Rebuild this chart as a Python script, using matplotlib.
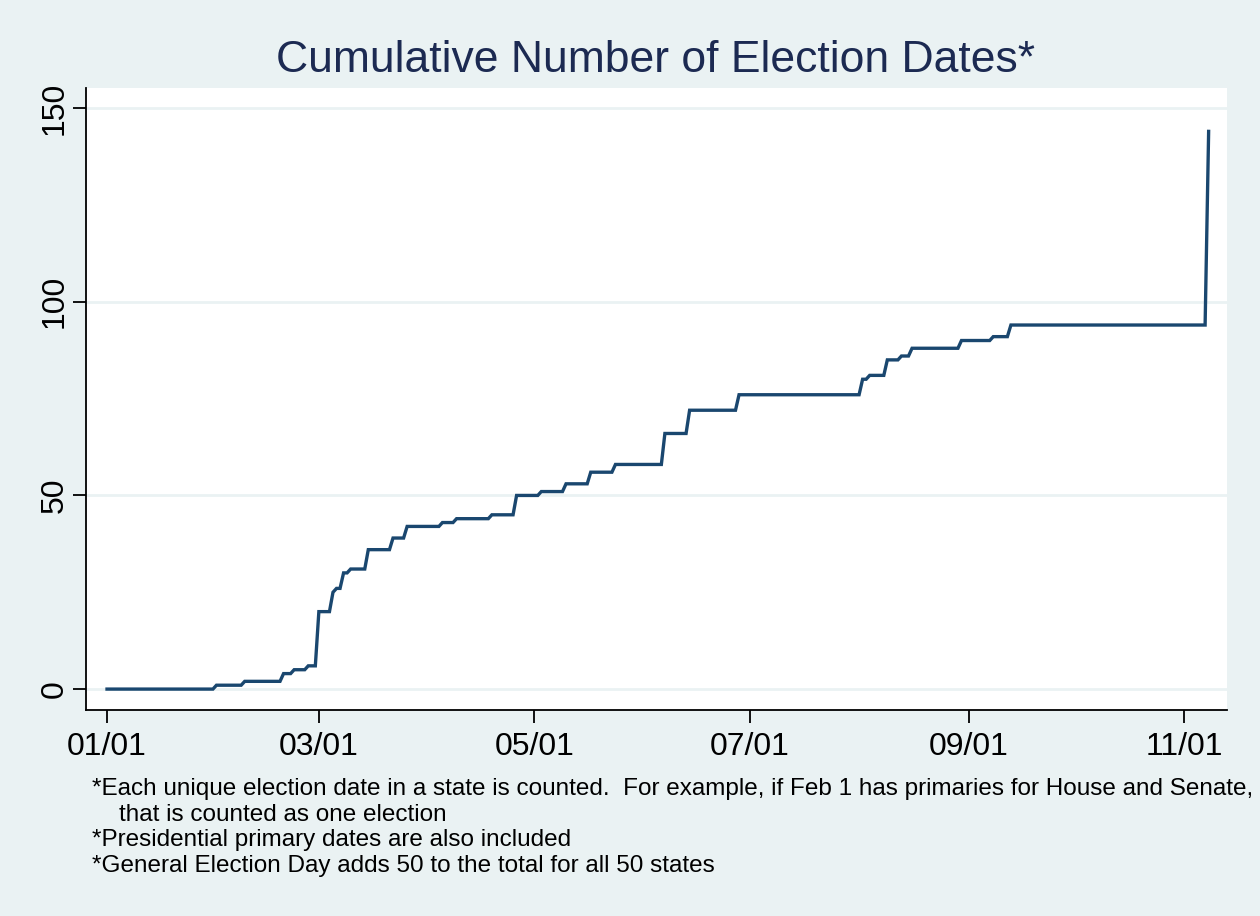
import matplotlib
matplotlib.use("Agg")
import matplotlib.pyplot as plt
import numpy as np
import pandas as pd

# Cumulative count after each election date (2016)
change_dates = ["2016-02-01", "2016-02-09", "2016-02-20", "2016-02-23", "2016-02-27",
                "2016-03-01", "2016-03-05", "2016-03-06", "2016-03-08", "2016-03-10",
                "2016-03-15", "2016-03-22", "2016-03-26", "2016-04-05", "2016-04-09",
                "2016-04-19", "2016-04-26", "2016-05-03", "2016-05-10", "2016-05-17",
                "2016-05-24", "2016-06-07", "2016-06-14", "2016-06-28", "2016-08-02",
                "2016-08-04", "2016-08-09", "2016-08-13", "2016-08-16", "2016-08-30",
                "2016-09-08", "2016-09-13", "2016-11-08"]
cum_values = [1, 2, 4, 5, 6,
              20, 25, 26, 30, 31,
              36, 39, 42, 43, 44,
              45, 50, 51, 53, 56,
              58, 66, 72, 76, 80,
              81, 85, 86, 88, 90,
              91, 94, 144]
start_date = "2016-01-01"
start_value = 0

x_tick_dates = ["2016-01-01", "2016-03-01", "2016-05-01", "2016-07-01", "2016-09-01", "2016-11-01"]
x_tick_labels = ["01/01", "03/01", "05/01", "07/01", "09/01", "11/01"]
y_ticks = [0, 50, 100, 150]

title = "Cumulative Number of Election Dates*"
notes = ["*Each unique election date in a state is counted.  For example, if Feb 1 has primaries for House and Senate,",
         "    that is counted as one election",
         "*Presidential primary dates are also included",
         "*General Election Day adds 50 to the total for all 50 states"]

BG = "#EAF2F3"
LINE = "#1A476F"
TITLE_C = "#1C2A52"

# build daily-connected line points (value changes between consecutive days)
xs = [pd.Timestamp(start_date)]
ys = [start_value]
prev = start_value
for d, v in zip(change_dates, cum_values):
    t = pd.Timestamp(d)
    xs.append(t - pd.Timedelta(days=1)); ys.append(prev)
    xs.append(t); ys.append(v)
    prev = v

plt.rcParams['font.family'] = ['Liberation Sans', 'DejaVu Sans']

fig = plt.figure(figsize=(12.6, 9.16), dpi=100, facecolor=BG)
ax = fig.add_axes([86/1260, 1-710/916, (1227-86)/1260, (710-88)/916])
ax.set_facecolor("white")

for yv in y_ticks:
    ax.axhline(yv, color=BG, lw=2.0, zorder=1)

ax.plot(xs, ys, color=LINE, lw=2.4, zorder=3, solid_joinstyle='miter')

x0 = pd.Timestamp(start_date)
ax.set_xlim(x0 - pd.Timedelta(days=5.95), x0 + pd.Timedelta(days=317.2))
ax.set_ylim(-5.4, 155.2)

ax.set_xticks([pd.Timestamp(d) for d in x_tick_dates])
ax.set_xticklabels(x_tick_labels)
ax.set_yticks(y_ticks)
ax.set_yticklabels([str(v) for v in y_ticks], rotation=90, va='center')

for s in ["top", "right"]:
    ax.spines[s].set_visible(False)
ax.spines["left"].set_linewidth(1.3)
ax.spines["bottom"].set_linewidth(1.3)
ax.tick_params(axis='both', length=9.5, width=1.3, labelsize=23, colors='black')
ax.tick_params(axis='y', pad=2)
ax.tick_params(axis='x', pad=6)

fig.text(656/1260, 1-60/916, title, ha='center', va='center', fontsize=32, color=TITLE_C)

note_y = [789, 815, 840, 866]
for txt, yy in zip(notes, note_y):
    fig.text(92/1260, 1-yy/916, txt, ha='left', va='center', fontsize=17.5, color='black')

fig.savefig("out.png", dpi=100, facecolor=BG)
